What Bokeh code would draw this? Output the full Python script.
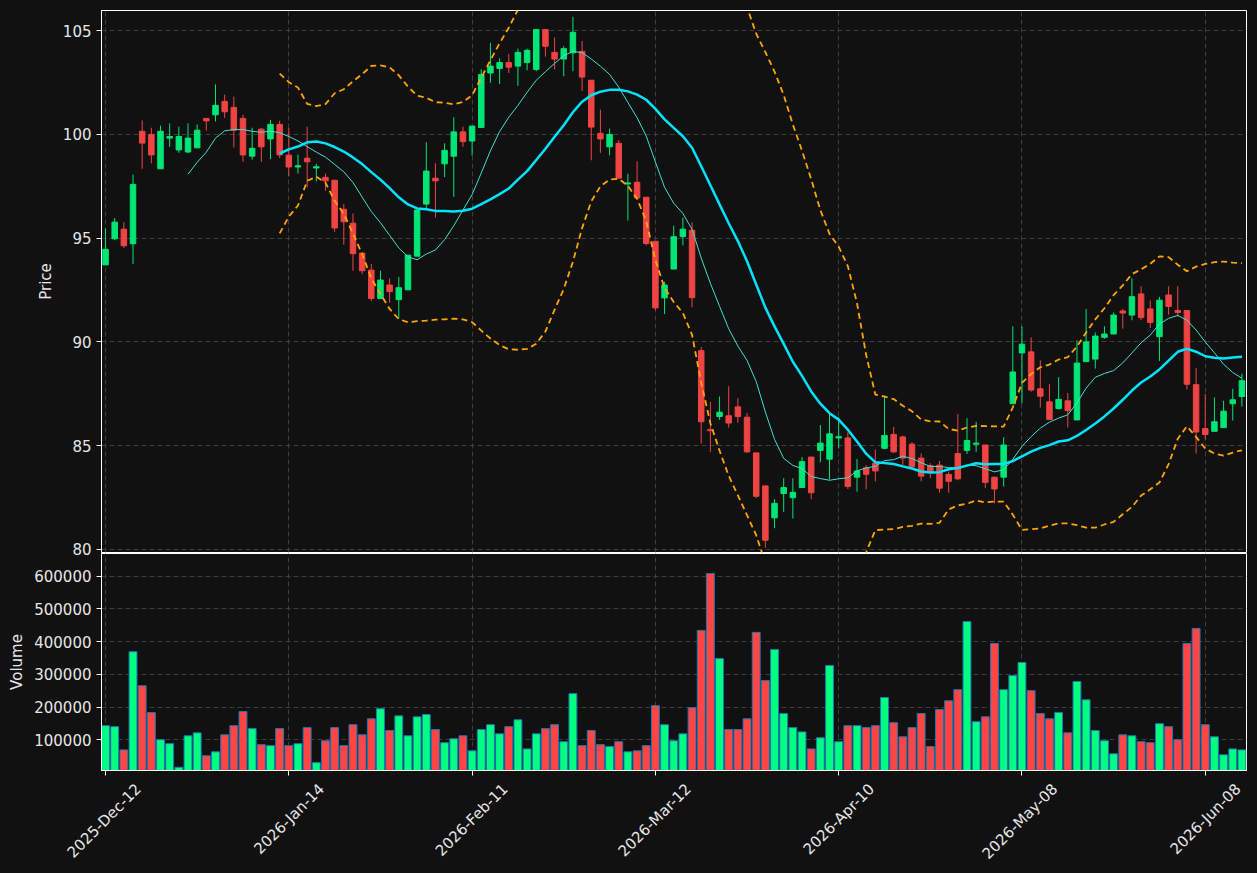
import math
import numpy as np
from bokeh.plotting import figure
from bokeh.layouts import column
from bokeh.models import Range1d, FixedTicker, ColumnDataSource, NumeralTickFormatter, LinearAxis
from bokeh.embed import file_html
from bokeh.resources import INLINE

# ---------------- data ----------------
opens = [93.71, 94.97, 95.43, 94.73, 100.15, 100.00, 98.34, 99.82, 99.25, 99.15,
         99.35, 100.77, 100.94, 101.59, 101.30, 100.77, 98.95, 100.25, 99.78, 100.48,
         99.00, 98.43, 98.85, 98.38, 97.93, 97.79, 96.39, 95.72, 94.28, 93.46,
         92.09, 92.74, 92.04, 92.51, 94.13, 96.64, 97.89, 98.58, 98.95, 100.12,
         99.68, 100.33, 102.96, 103.18, 103.46, 103.29, 103.46, 103.13, 105.05, 103.95,
         103.63, 103.93, 104.00, 102.61, 100.05, 99.40, 99.57, 97.61, 97.69, 96.97,
         94.85, 92.12, 93.51, 95.07, 95.38, 89.58, 85.77, 86.40, 86.44, 86.87,
         86.37, 84.65, 83.06, 81.52, 82.69, 82.49, 82.98, 84.45, 84.77, 84.35,
         85.37, 85.37, 83.48, 83.93, 84.15, 84.87, 85.54, 85.42, 85.07, 84.40,
         84.03, 84.06, 83.61, 84.62, 84.77, 85.07, 85.03, 83.48, 83.48, 87.02,
         89.47, 89.52, 87.74, 87.11, 86.79, 87.16, 86.24, 89.05, 89.17, 90.22,
         90.38, 91.49, 91.29, 92.31, 91.59, 90.25, 92.26, 91.51, 91.51, 87.94,
         85.82, 85.69, 85.87, 87.02, 87.37]
highs = [95.47, 95.97, 95.77, 98.06, 100.67, 100.32, 100.42, 100.53, 100.37, 100.53,
         100.48, 100.77, 102.41, 101.91, 101.82, 100.95, 100.32, 100.32, 100.70, 100.65,
         100.32, 99.03, 100.37, 98.58, 98.11, 97.79, 96.64, 96.19, 94.28, 93.76,
         93.43, 93.06, 93.13, 94.18, 96.35, 99.62, 98.61, 99.57, 100.82, 100.37,
         100.40, 103.13, 104.41, 103.66, 103.88, 104.13, 104.13, 105.05, 105.05, 104.67,
         104.25, 105.67, 104.50, 102.61, 101.19, 100.28, 99.73, 98.11, 98.70, 96.97,
         94.85, 92.90, 95.60, 95.98, 95.77, 89.75, 87.11, 87.37, 87.86, 87.29,
         86.57, 84.65, 83.06, 82.42, 83.43, 83.43, 84.45, 84.45, 85.99, 86.52,
         86.37, 85.65, 84.36, 84.06, 84.82, 87.41, 85.90, 85.48, 85.17, 84.62,
         84.15, 84.26, 83.76, 86.52, 86.32, 86.15, 85.03, 83.48, 85.40, 90.75,
         90.75, 90.22, 89.11, 87.96, 88.30, 87.54, 90.08, 91.59, 90.45, 90.75,
         91.42, 91.59, 93.06, 92.68, 92.00, 92.17, 92.68, 92.68, 91.51, 88.74,
         87.49, 87.32, 87.16, 87.74, 88.47]
lows = [93.71, 94.90, 94.53, 93.76, 98.34, 98.60, 98.34, 99.40, 99.11, 99.11,
        99.35, 100.18, 100.62, 100.79, 99.36, 98.68, 98.78, 98.68, 98.81, 98.86,
        97.98, 98.11, 97.44, 97.74, 97.28, 95.30, 94.68, 93.43, 93.26, 91.96,
        92.09, 91.89, 91.12, 92.51, 94.13, 96.44, 95.99, 97.94, 96.99, 99.40,
        98.98, 100.33, 102.49, 102.42, 102.96, 102.34, 103.09, 103.04, 103.75, 103.13,
        102.80, 103.04, 102.09, 98.75, 99.11, 98.98, 97.89, 95.85, 96.94, 94.65,
        91.53, 91.34, 93.51, 94.65, 91.67, 85.10, 84.70, 86.24, 85.87, 86.10,
        84.65, 82.47, 80.08, 81.02, 81.81, 81.49, 82.98, 82.42, 84.20, 83.37,
        84.87, 82.91, 82.78, 82.90, 83.28, 84.82, 84.65, 84.06, 83.86, 83.28,
        83.43, 82.73, 82.73, 83.33, 84.60, 84.70, 82.95, 82.22, 83.03, 87.02,
        87.04, 87.60, 86.83, 86.26, 86.74, 85.87, 86.24, 89.05, 88.71, 90.15,
        90.38, 90.64, 91.04, 91.04, 90.67, 89.08, 91.31, 91.22, 87.71, 84.62,
        85.29, 85.69, 85.87, 86.21, 86.88]
closes = [94.46, 95.77, 94.63, 97.59, 99.58, 99.01, 100.15, 99.90, 99.90, 99.82,
          100.20, 100.65, 101.40, 101.09, 100.20, 99.01, 99.33, 99.40, 100.48, 99.01,
          98.43, 98.49, 98.68, 98.44, 97.76, 95.49, 95.79, 94.25, 93.43, 92.09,
          92.98, 92.42, 92.61, 94.18, 96.35, 98.23, 97.76, 99.23, 100.12, 99.65,
          100.40, 102.88, 103.29, 103.46, 103.24, 103.95, 104.05, 105.05, 104.25, 103.63,
          104.13, 104.92, 102.76, 100.35, 99.78, 100.00, 97.89, 97.66, 96.94, 94.74,
          91.64, 92.74, 95.07, 95.43, 92.13, 86.15, 85.72, 86.61, 86.09, 86.40,
          84.70, 82.56, 80.44, 82.22, 82.98, 82.75, 84.23, 82.73, 85.12, 85.57,
          85.43, 83.03, 83.78, 83.62, 83.78, 85.49, 84.70, 84.40, 83.98, 83.53,
          83.70, 82.95, 83.28, 83.40, 85.25, 85.12, 83.23, 82.91, 85.03, 88.55,
          89.89, 87.68, 87.38, 86.26, 87.23, 86.69, 88.98, 90.00, 90.28, 90.38,
          91.29, 91.39, 92.18, 91.17, 90.94, 92.01, 91.71, 91.42, 87.96, 85.66,
          85.54, 86.15, 86.66, 87.21, 88.13]
volumes = [143000, 140000, 69000, 369000, 265000, 183000, 100000, 88000, 16000, 112000,
           121000, 51000, 63000, 115000, 143000, 186000, 134000, 85000, 82000, 134000,
           82000, 88000, 137000, 30000, 97000, 137000, 82000, 146000, 115000, 164000,
           195000, 128000, 173000, 112000, 170000, 177000, 131000, 91000, 103000, 112000,
           66000, 131000, 146000, 118000, 140000, 161000, 72000, 118000, 134000, 146000,
           94000, 241000, 82000, 128000, 85000, 79000, 94000, 63000, 66000, 82000,
           204000, 146000, 97000, 118000, 198000, 434000, 608000, 348000, 131000, 131000,
           164000, 428000, 281000, 376000, 180000, 137000, 124000, 72000, 106000, 327000,
           94000, 143000, 143000, 137000, 143000, 229000, 152000, 109000, 137000, 180000,
           79000, 192000, 219000, 253000, 461000, 155000, 170000, 394000, 253000, 296000,
           336000, 250000, 180000, 164000, 183000, 121000, 278000, 222000, 128000, 97000,
           57000, 115000, 112000, 94000, 91000, 149000, 140000, 100000, 394000, 440000,
           146000, 109000, 54000, 72000, 69000]
tick_positions = [0, 20, 40, 60, 80, 100, 120]
tick_labels = ["2025-Dec-12", "2026-Jan-14", "2026-Feb-11", "2026-Mar-12",
               "2026-Apr-10", "2026-May-08", "2026-Jun-08"]
price_ticks = [80, 85, 90, 95, 100, 105]
volume_ticks = [100000, 200000, 300000, 400000, 500000, 600000]

# ---------------- derived ----------------
n = len(closes)
idx = np.arange(n)
o = np.array(opens); c = np.array(closes)
up = c >= o

def sma(a, w):
    out = np.full(len(a), np.nan)
    for i in range(w - 1, len(a)):
        out[i] = a[i - w + 1:i + 1].mean()
    return out

def rstd(a, w):
    out = np.full(len(a), np.nan)
    for i in range(w - 1, len(a)):
        out[i] = a[i - w + 1:i + 1].std()
    return out

sma10 = sma(c, 10)
sma20 = sma(c, 20)
sd20 = rstd(c, 20)
bb_up = sma20 + 2 * sd20
bb_lo = sma20 - 2 * sd20

BG = "#111111"
CANDLE_UP = "#00e676"
CANDLE_DN = "#ef4444"
VOL_UP = "#00ff80"
VOL_DN = "#ff4444"
TXT = "#e6e6e6"
FONT = "DejaVu Sans"
FS = "15px"

src = ColumnDataSource(dict(
    x=idx, o=o, h=np.array(highs), l=np.array(lows), c=c,
    top=np.maximum(o, c), bot=np.minimum(o, c),
    ccol=[CANDLE_UP if u else CANDLE_DN for u in up],
    vcol=[VOL_UP if u else VOL_DN for u in up],
    vol=np.array(volumes),
))
lines = ColumnDataSource(dict(x=idx, s10=sma10, s20=sma20, bu=bb_up, bl=bb_lo))

xr = Range1d(-0.44, 124.5)

def style(p):
    p.background_fill_color = BG
    p.border_fill_color = BG
    p.outline_line_color = "white"
    p.outline_line_width = 1
    for ax in p.axis:
        ax.axis_line_color = "white"
        ax.major_tick_line_color = "white"
        ax.minor_tick_line_color = None
        ax.major_tick_out = 5
        ax.major_tick_in = 0
        ax.major_label_text_color = TXT
        ax.major_label_text_font = FONT
        ax.major_label_text_font_size = FS
        ax.axis_label_text_color = TXT
        ax.axis_label_text_font = FONT
        ax.axis_label_text_font_size = FS
        ax.axis_label_text_font_style = "normal"
    for g in p.grid:
        g.grid_line_color = "#3d3d3d"
        g.grid_line_dash = "5 3"
        g.grid_line_width = 1

p1 = figure(width=1257, height=561, x_range=xr, y_range=Range1d(79.85, 105.97),
            output_backend="svg", toolbar_location=None,
            min_border_left=101, min_border_right=11, min_border_top=10, min_border_bottom=9)
p1.segment(x0="x", y0="l", x1="x", y1="h", color="ccol", line_width=1, source=src)
p1.vbar(x="x", top="top", bottom="bot", width=0.6, fill_color="ccol", line_color="ccol",
        line_width=1, source=src)
p1.line("x", "s10", source=lines, color="#40e0d0", line_width=1)
p1.line("x", "s20", source=lines, color="#00e5ff", line_width=2.5)
p1.line("x", "bu", source=lines, color="#ffa500", line_width=1.8, line_dash="6 4")
p1.line("x", "bl", source=lines, color="#ffa500", line_width=1.8, line_dash="6 4")
p1.xaxis.visible = False
p1.yaxis.axis_label = "Price"
p1.yaxis.ticker = FixedTicker(ticks=price_ticks)
p1.xgrid.ticker = FixedTicker(ticks=tick_positions)
style(p1)

p2 = figure(width=1257, height=320, x_range=xr, y_range=Range1d(6000, 669000),
            output_backend="svg", toolbar_location=None,
            min_border_left=101, min_border_right=11, min_border_top=0, min_border_bottom=103)
p2.vbar(x="x", top="vol", bottom=0, width=0.86, fill_color="vcol", line_color="#1f77b4",
        line_width=1, source=src)
p2.yaxis.axis_label = "Volume"
p2.yaxis.ticker = FixedTicker(ticks=volume_ticks)
p2.yaxis.formatter = NumeralTickFormatter(format="0")
p2.xaxis.ticker = FixedTicker(ticks=tick_positions)
p2.xaxis.major_label_overrides = {t: "" for t in tick_positions}

# second (label-only) axis: rotated date labels centred under their ticks
shift = 3.6
label_ticks = [t + shift for t in tick_positions]
lab_axis = LinearAxis(ticker=FixedTicker(ticks=label_ticks),
                      major_label_overrides={lt: lab for lt, lab in zip(label_ticks, tick_labels)})
p2.add_layout(lab_axis, "below")
style(p2)
p2.xaxis[0].major_label_text_font_size = "0px"
p2.xaxis[0].major_label_standoff = 0
lab_axis.axis_line_color = None
lab_axis.major_tick_line_color = None
lab_axis.major_tick_out = 0
lab_axis.major_label_orientation = math.pi / 4
lab_axis.major_label_standoff = 11
p2.border_fill_alpha = 0
p2.styles = {"margin-top": "-8px"}

layout = column(p1, p2, spacing=0)
layout.styles = {"background-color": BG}
open("out.html", "w").write(file_html(layout, INLINE))
